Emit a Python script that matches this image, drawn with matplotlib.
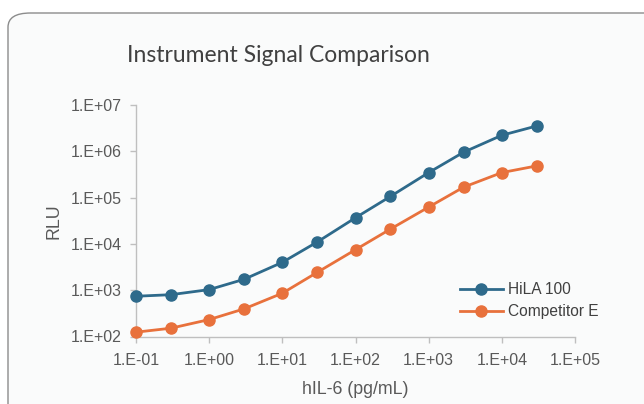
import matplotlib.pyplot as plt
import numpy as np
from matplotlib.patches import FancyBboxPatch
from matplotlib.ticker import FixedLocator, NullLocator

# hIL-6 concentration (pg/mL) and signal for each instrument
conc = [0.1, 0.3, 1, 3, 10, 30, 100, 300, 1000, 3000, 10000, 30000]
hila_100 = [740, 800, 1030, 1720, 4000, 11000, 36700, 106000, 347000, 955000, 2220000, 3530000]
competitor_e = [124, 151, 232, 395, 860, 2430, 7500, 20900, 62400, 168000, 347000, 484000]

x_ticks = [1e-1, 1e0, 1e1, 1e2, 1e3, 1e4, 1e5]
y_ticks = [1e2, 1e3, 1e4, 1e5, 1e6, 1e7]

def sci_label(v):
    e = int(round(np.log10(v)))
    return "1.E%s%02d" % ("+" if e >= 0 else "-", abs(e))

W, H = 644, 404
fig = plt.figure(figsize=(W / 100, H / 100), dpi=100)
fig.patch.set_facecolor("white")

# card background with rounded top-left corner
card = FancyBboxPatch((8 / W, -0.2), 1.2, (H - 13) / H + 0.2,
                      boxstyle="round,pad=0,rounding_size=0.035",
                      transform=fig.transFigure, facecolor="#fafbfb",
                      edgecolor="#8c8c8c", linewidth=1.0, zorder=-5)
fig.patches.append(card)

ax = fig.add_axes([136 / W, (H - 336.5) / H, (575 - 136) / W, (336.5 - 105) / H])
ax.set_facecolor("none")
ax.set_zorder(2)

blue = "#2e6a8b"
orange = "#e8713c"
ax.plot(conc, hila_100, color=blue, lw=2.0, marker="o", ms=8, label="HiLA 100", clip_on=False, zorder=3)
ax.plot(conc, competitor_e, color=orange, lw=2.0, marker="o", ms=8, label="Competitor E", clip_on=False, zorder=3)

ax.set_xscale("log")
ax.set_yscale("log")
ax.set_xlim(1e-1, 1e5)
ax.set_ylim(1e2, 1e7)
ax.xaxis.set_major_locator(FixedLocator(x_ticks))
ax.yaxis.set_major_locator(FixedLocator(y_ticks))
ax.xaxis.set_minor_locator(NullLocator())
ax.yaxis.set_minor_locator(NullLocator())
ax.set_xticklabels([sci_label(v) for v in x_ticks])
ax.set_yticklabels([sci_label(v) for v in y_ticks])

for side in ["top", "right"]:
    ax.spines[side].set_visible(False)
for side in ["left", "bottom"]:
    ax.spines[side].set_color("#bfbfbf")
    ax.spines[side].set_linewidth(1.0)

ax.tick_params(axis="both", colors="#bfbfbf", labelcolor="#595959",
               labelsize=11.5, length=4, width=1.0)
for lab in ax.get_xticklabels() + ax.get_yticklabels():
    lab.set_fontfamily("Liberation Sans")
ax.tick_params(axis="x", pad=8)
ax.tick_params(axis="y", pad=6)

ax.set_xlabel("hIL-6 (pg/mL)", fontfamily="Liberation Sans", fontsize=12.8, color="#595959", labelpad=9)
ax.set_ylabel("RLU", fontfamily="Liberation Sans", fontsize=12.8, color="#595959", labelpad=6)

leg = ax.legend(loc="lower right", bbox_to_anchor=(1.085, 0.015), frameon=False,
                prop={"family": "Liberation Sans", "size": 11.2}, labelcolor="#404040",
                handlelength=2.8, handletextpad=0.3, labelspacing=0.45)

fig.text(278 / W, (H - 55) / H, "Instrument Signal Comparison", ha="center", va="center",
         fontfamily="Lato", fontsize=16.5, color="#404040")

fig.savefig("out.png", dpi=100)
